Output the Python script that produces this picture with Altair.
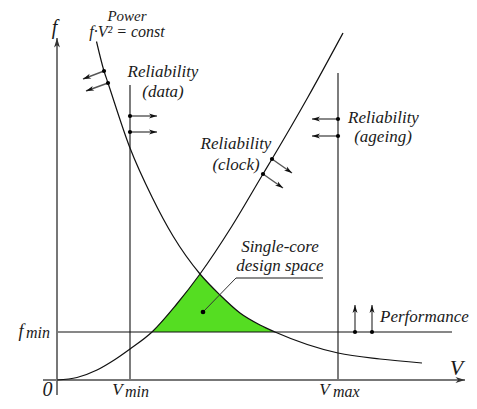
import altair as alt
import pandas as pd
import numpy as np

# ---- data (V, f in axis units) ----
power_V = [3.95, 4.7, 5.1, 7.3, 9.5, 11.6, 14.3, 16.3, 18.3, 20.3, 21.8, 28.1, 32.3, 36.5]
power_f = [33.85, 30.9, 29.7, 23.2, 18.3, 14.4, 10.6, 8.5, 6.7, 5.5, 4.8, 2.7, 2.1, 1.7]
clock_V = [0.0, 2.0, 4.0, 5.8, 7.3, 9.5, 11.9, 14.3, 17.5, 20.6, 21.5, 25.1, 28.6]
clock_f = [0.0, 0.25, 1.0, 2.05, 3.1, 4.8, 7.5, 10.6, 15.4, 20.6, 22.1, 28.3, 34.7]

V_min, V_max, f_min = 7.3, 28.1, 4.8
line_top_Vmin, line_top_Vmax, fmin_end = 29.5, 30.7, 39.5
x_axis = [-1.4, 40.8]
y_axis = [-1.5, 34.2]

# arrows: start (V, f) -> end (V, f)
arr_V1 = [4.7, 5.1, 7.3, 7.3, 28.1, 28.1, 21.5, 20.6, 29.8, 31.5]
arr_f1 = [30.9, 29.7, 26.4, 24.8, 26.1, 24.4, 22.1, 20.6, 4.8, 4.8]
arr_V2 = [2.6, 2.9, 10.0, 10.0, 25.5, 25.5, 23.5, 22.6, 29.8, 31.5]
arr_f2 = [30.1, 28.9, 26.4, 24.8, 26.1, 24.4, 20.7, 19.2, 7.5, 7.5]

leader_V = [14.6, 17.9, 26.6]
leader_f = [6.8, 10.2, 10.2]

# labels
c_text = ["Power", "f·V² = const", "Reliability", "(data)", "Reliability", "(clock)",
          "Reliability", "(ageing)", "Single-core", "design space",
          "f", "V", "0", "f", "V", "V"]
c_V = [7.0, 7.0, 10.6, 10.6, 17.9, 17.9, 32.65, 32.6, 22.3, 22.3,
       -0.25, 39.95, -0.95, -3.6, 6.05, 26.75]
c_f = [35.9, 34.3, 30.3, 28.3, 23.1, 21.0, 25.7, 23.8, 12.8, 10.9,
       34.6, 0.5, -1.6, 4.3, -1.5, -1.5]
c_size = [15, 16, 17, 17, 17, 17, 17, 17, 17, 17, 20, 22, 20, 18, 17, 17]

l_text = ["Performance", "min", "min", "max"]
l_V = [32.3, -3.1, 6.8, 27.6]
l_f = [5.8, 4.2, -1.7, -1.7]
l_size = [17, 16, 16, 16]

# ---- tables ----
xs = alt.Scale(domain=[-4.9, 41.2], nice=False, zero=False)
ys = alt.Scale(domain=[-2.1, 37.2], nice=False, zero=False)
FONT = "Liberation Serif"

def X(f="V"):
    return alt.X(f"{f}:Q", scale=xs, axis=None)
def Y(f="f"):
    return alt.Y(f"{f}:Q", scale=ys, axis=None)

power = pd.DataFrame({"V": power_V, "f": power_f})
clock = pd.DataFrame({"V": clock_V, "f": clock_f})
left_fill = clock[(clock.V >= 9.5) & (clock.V <= 14.3)].assign(f0=f_min)
right_fill = power[(power.V >= 14.3) & (power.V <= 21.8)].assign(f0=f_min)

arrows = pd.DataFrame({"V": arr_V1, "f": arr_f1, "V2": arr_V2, "f2": arr_f2})
arrows["ang"] = (np.degrees(np.arctan2(-(arrows.f2 - arrows.f), arrows.V2 - arrows.V)) % 360)
axis_heads = pd.DataFrame({"V2": [x_axis[1], 0.0], "f2": [0.0, y_axis[1]], "ang": [0.0, 270.0]})

rules_black = pd.DataFrame({
    "V": [V_min, V_max, 0.0], "f": [0.0, 0.0, f_min],
    "V2": [V_min, V_max, fmin_end], "f2": [line_top_Vmin, line_top_Vmax, f_min]})
rules_axes = pd.DataFrame({
    "V": [x_axis[0], 0.0], "f": [0.0, y_axis[0]],
    "V2": [x_axis[1], 0.0], "f2": [0.0, y_axis[1]]})
leader = pd.DataFrame({"V": leader_V, "f": leader_f, "o": range(len(leader_V))})
ctext = pd.DataFrame({"V": c_V, "f": c_f, "t": c_text, "s": c_size})
ltext = pd.DataFrame({"V": l_V, "f": l_f, "t": l_text, "s": l_size})

GREEN = "#55DD22"
HEAD = "M0,0 L-2,-0.62 L-1.45,0 L-2,0.62 Z"

fillL = alt.Chart(left_fill).mark_area(color=GREEN, interpolate="monotone").encode(X(), Y(), y2="f0:Q")
fillR = alt.Chart(right_fill).mark_area(color=GREEN, interpolate="monotone").encode(X(), Y(), y2="f0:Q")

axes = alt.Chart(rules_axes).mark_rule(color="#777777", strokeWidth=2).encode(X(), Y(), x2="V2:Q", y2="f2:Q")
blk = alt.Chart(rules_black).mark_rule(color="#111111", strokeWidth=1.1).encode(X(), Y(), x2="V2:Q", y2="f2:Q")

pl = alt.Chart(power).mark_line(color="#111111", strokeWidth=1.2, interpolate="monotone").encode(X(), Y())
cl = alt.Chart(clock).mark_line(color="#111111", strokeWidth=1.2, interpolate="monotone").encode(X(), Y())

lead = alt.Chart(leader).mark_line(color="#333333", strokeWidth=1.0).encode(X(), Y(), order="o:Q")
underline = alt.Chart(leader.iloc[1:]).mark_line(color="#888888", strokeWidth=1.6).encode(X(), Y(), order="o:Q")

shafts = alt.Chart(arrows).mark_rule(color="#555555", strokeWidth=1.4).encode(X(), Y(), x2="V2:Q", y2="f2:Q")
heads = alt.Chart(arrows).mark_point(shape=HEAD, filled=True, color="#111111", opacity=1, size=64).encode(
    X("V2"), Y("f2"), angle=alt.Angle("ang:Q", scale=None))
aheads = alt.Chart(axis_heads).mark_point(shape=HEAD, filled=True, color="#333333", opacity=1, size=90).encode(
    X("V2"), Y("f2"), angle=alt.Angle("ang:Q", scale=None))
dots = alt.Chart(arrows).mark_circle(color="#000000", opacity=1, size=18).encode(X(), Y())
ldot = alt.Chart(leader.iloc[:1]).mark_circle(color="#000000", opacity=1, size=22).encode(X(), Y())

ct = alt.Chart(ctext).mark_text(font=FONT, fontStyle="italic", align="center", baseline="alphabetic",
                                color="#1a1a1a").encode(X(), Y(), text="t:N", size=alt.Size("s:Q", scale=None))
lt = alt.Chart(ltext).mark_text(font=FONT, fontStyle="italic", align="left", baseline="alphabetic",
                                color="#1a1a1a").encode(X(), Y(), text="t:N", size=alt.Size("s:Q", scale=None))

chart = alt.layer(fillL, fillR, blk, axes, pl, cl, lead, underline, shafts, heads, aheads, dots, ldot, ct, lt).properties(
    width=461, height=393, padding=0, autosize=alt.AutoSizeParams(type="none"),
    background="white"
).configure_view(stroke=None)

chart.save("out.html", embed_options={"renderer": "svg", "actions": False})
